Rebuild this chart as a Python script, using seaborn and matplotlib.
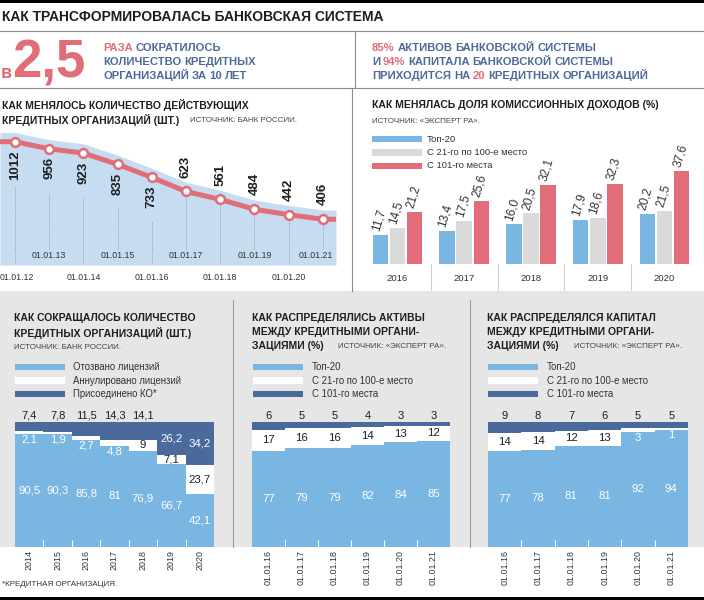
import numpy as np
import pandas as pd
import matplotlib
matplotlib.use("Agg")
import matplotlib.pyplot as plt
from matplotlib.patches import Rectangle
from matplotlib.lines import Line2D
import seaborn as sns

# ---------------- data ----------------
count_dates = ["01.01.12", "01.01.13", "01.01.14", "01.01.15", "01.01.16",
               "01.01.17", "01.01.18", "01.01.19", "01.01.20", "01.01.21"]
count_values = [1012, 956, 923, 835, 733, 623, 561, 484, 442, 406]

fee_years = ["2016", "2017", "2018", "2019", "2020"]
fee_groups = ["Топ-20", "С 21-го по 100-е место", "С 101-го места"]
fee_top20 = [11.7, 13.4, 16.0, 17.9, 20.2]
fee_21_100 = [14.5, 17.5, 20.5, 18.6, 21.5]
fee_101 = [21.2, 25.6, 32.1, 32.3, 37.6]

red_years = ["2014", "2015", "2016", "2017", "2018", "2019", "2020"]
red_groups = ["Отозвано лицензий", "Аннулировано лицензий", "Присоединено КО*"]
red_revoked = [90.5, 90.3, 85.8, 81, 76.9, 66.7, 42.1]
red_annulled = [2.1, 1.9, 2.7, 4.8, 9, 7.1, 23.7]
red_merged = [7.4, 7.8, 11.5, 14.3, 14.1, 26.2, 34.2]

share_dates = ["01.01.16", "01.01.17", "01.01.18", "01.01.19", "01.01.20", "01.01.21"]
assets_top20 = [77, 79, 79, 82, 84, 85]
assets_21_100 = [17, 16, 16, 14, 13, 12]
assets_101 = [6, 5, 5, 4, 3, 3]
capital_top20 = [77, 78, 81, 81, 92, 94]
capital_21_100 = [14, 14, 12, 13, 3, 1]
capital_101 = [9, 8, 7, 6, 5, 5]

# ---------------- style ----------------
RED = "#e06d77"
BLUE_TXT = "#4d6a9a"
LIGHT = "#79b6e1"
DARK = "#4a6a9c"
GRAYBAR = "#dadada"
FILL = "#c5dcf1"
BG = "#e6e6e6"
INK = "#1e1e1e"
TITLE_PT = 7.5
HEAD_PT = 8.1

plt.rcParams['font.family'] = ['Liberation Sans', 'DejaVu Sans']

W, H = 704, 600
fig = plt.figure(figsize=(W / 100, H / 100), dpi=100)


def px_axes(x, y, w, h):
    ax = fig.add_axes([x / W, 1 - (y + h) / H, w / W, h / H])
    ax.set_facecolor("none")
    return ax


def ftext(x, y, s, **kw):
    kw.setdefault("va", "center")
    return fig.text(x / W, 1 - y / H, s, **kw)


def fline(xs, ys, color, lw):
    fig.add_artist(Line2D([v / W for v in xs], [1 - v / H for v in ys],
                          color=color, lw=lw, transform=fig.transFigure))


def frect(x, y, w, h, color, z=-1):
    fig.add_artist(Rectangle((x / W, 1 - (y + h) / H), w / W, h / H, facecolor=color,
                             lw=0, transform=fig.transFigure, zorder=z))


def color_line(x, y, words, size):
    # y is the visual middle of the capitals; words share one baseline
    r = fig.canvas.get_renderer()
    em = size * 100 / 72
    sp = 0.25 * em
    base = y + 0.36 * em
    for chunk, col in words:
        for word in chunk.split():
            t = ftext(x, base, word, color=col, fontsize=size, fontweight="bold", va="baseline")
            x += t.get_window_extent(renderer=r).width + sp


# ---------------- frame ----------------
frect(0, 0, W, 3, "black", z=2)
frect(0, 597, W, 3, "black", z=2)
frect(0, 291, W, 256, BG)
fline([0, W], [30.5, 30.5], "#8c8c8c", 0.8)
fline([0, W], [88, 88], "#8c8c8c", 0.8)
fline([355, 355], [31, 88], "#8c8c8c", 0.8)
fline([352, 352], [88, 291], "#8c8c8c", 0.8)
fline([233, 233], [300, 547], "#9a9a9a", 0.8)
fline([470, 470], [300, 547], "#9a9a9a", 0.8)

ftext(2, 17, "КАК ТРАНСФОРМИРОВАЛАСЬ БАНКОВСКАЯ СИСТЕМА", fontsize=10,
      fontweight="bold", color=INK)

# header figures
ftext(1, 78, "в", fontsize=13, fontweight="bold", color=RED, va="baseline")
ftext(12, 78, "2,5", fontsize=38, fontweight="bold", color=RED, va="baseline")
color_line(103, 46.5, [("РАЗА", RED), ("СОКРАТИЛОСЬ", BLUE_TXT)], HEAD_PT)
color_line(103, 60.5, [("КОЛИЧЕСТВО КРЕДИТНЫХ", BLUE_TXT)], HEAD_PT)
color_line(103, 74.5, [("ОРГАНИЗАЦИЙ ЗА 10 ЛЕТ", BLUE_TXT)], HEAD_PT)
color_line(372, 46.5, [("85%", RED), ("АКТИВОВ БАНКОВСКОЙ СИСТЕМЫ", BLUE_TXT)], HEAD_PT)
color_line(372, 60.5, [("И", BLUE_TXT), ("94%", RED), ("КАПИТАЛА БАНКОВСКОЙ СИСТЕМЫ", BLUE_TXT)],
           HEAD_PT)
color_line(372, 74.5, [("ПРИХОДИТСЯ НА", BLUE_TXT), ("20", RED),
                       ("КРЕДИТНЫХ ОРГАНИЗАЦИЙ", BLUE_TXT)], HEAD_PT)

# ---------------- line chart: number of banks ----------------
ftext(2, 105, "КАК МЕНЯЛОСЬ КОЛИЧЕСТВО ДЕЙСТВУЮЩИХ", fontsize=TITLE_PT, fontweight="bold", color=INK)
ftext(2, 120, "КРЕДИТНЫХ ОРГАНИЗАЦИЙ (ШТ.)", fontsize=TITLE_PT, fontweight="bold", color=INK)
ftext(190, 120.5, "ИСТОЧНИК: БАНК РОССИИ.", fontsize=5.8, color="#444")

ax1 = px_axes(0, 128, 336, 137)
x_lo, x_hi = -0.4386, 9.386
y_lo, y_hi = 48.7, 1119
idx = np.arange(len(count_values))
xs = np.r_[x_lo, idx, x_hi]
vs = np.r_[count_values[0], count_values, count_values[-1]]
ax1.fill_between(xs, vs + 72, y_lo, color=FILL, lw=0, zorder=1)
sns.lineplot(x=xs, y=vs, ax=ax1, color=RED, lw=3.6, zorder=3)
sns.scatterplot(x=idx, y=count_values, ax=ax1, s=40, color="white",
                edgecolor=RED, linewidth=1.8, zorder=4)
ax1.set_xlim(x_lo, x_hi)
ax1.set_ylim(y_lo, y_hi)
ax1.axis("off")

inner_y = y_lo + (16 / 137) * (y_hi - y_lo)
unit = (y_hi - y_lo) / 137
last = len(count_values) - 1
for i, v in enumerate(count_values):
    below = i < 5
    ax1.annotate(str(v), (i, v), xytext=(0, -6 if below else 10), textcoords="offset points",
                 rotation=90, ha="center", va="top" if below else "bottom",
                 fontsize=9.5, fontweight="bold", color=INK, zorder=5)
    top = v - 44 * unit if below else v
    bot = inner_y if i % 2 else y_lo
    ax1.plot([i, i], [bot, top], color="#8a8a8a", lw=0.6, ls=(0, (1, 1.5)), zorder=2)
    if i == 0:
        xpos, ha = x_lo, "left"
    elif i == last:
        xpos, ha = x_hi - 0.08, "right"
    else:
        xpos, ha = i, "center"
    ypos = (265 - 255) / 137 if i % 2 else (265 - 278) / 137
    ax1.text(xpos, ypos, count_dates[i], transform=ax1.get_xaxis_transform(),
             ha=ha, va="center", fontsize=6.3, color="#333", clip_on=False)

# ---------------- grouped bars: fee income ----------------
ftext(372, 105, "КАК МЕНЯЛАСЬ ДОЛЯ КОМИССИОННЫХ ДОХОДОВ (%)", fontsize=TITLE_PT,
      fontweight="bold", color=INK)
ftext(372, 121.5, "ИСТОЧНИК: «ЭКСПЕРТ РА».", fontsize=5.8, color="#444")
for k, (col, lab) in enumerate(zip([LIGHT, GRAYBAR, RED], fee_groups)):
    yc = [139, 152.5, 166][k]
    frect(372, yc - 3.3, 50, 6.6, col, z=1)
    ftext(427, yc, lab, fontsize=6.8, color="#333")

fee_df = pd.DataFrame({
    "year": fee_years * 3,
    "group": [g for g in fee_groups for _ in fee_years],
    "value": fee_top20 + fee_21_100 + fee_101,
})
ax2 = px_axes(364, 160, 334, 104)
sns.barplot(data=fee_df, x="year", y="value", hue="group", hue_order=fee_groups,
            palette=[LIGHT, GRAYBAR, RED], width=0.77, gap=0.1, saturation=1,
            errorbar=None, legend=False, linewidth=0, ax=ax2)
ax2.set_xlim(-0.5, 4.5)
ax2.set_ylim(0, 104 / 2.47)
ax2.axis("off")
for cont in ax2.containers:
    for bar in cont:
        h = bar.get_height()
        ax2.annotate(f"{h:.1f}".replace(".", ","), (bar.get_x() + bar.get_width() / 2, h),
                     xytext=(-3.5, 3), textcoords="offset points", rotation=73,
                     rotation_mode="anchor", ha="left", va="center", fontsize=8.6,
                     color="#333", clip_on=False)
for k, yr in enumerate(fee_years):
    ax2.text(k, -15 / 104, yr, transform=ax2.get_xaxis_transform(), ha="center",
             va="center", fontsize=6.8, color="#333")
    if k < len(fee_years) - 1:
        ax2.plot([k + 0.5, k + 0.5], [0, -26 / 104], transform=ax2.get_xaxis_transform(),
                 color="#cfcfcf", lw=0.8, clip_on=False)


# ---------------- 100% stacked panels ----------------
def stacked(x0, width, cats, low, mid, top, legend_x, label_x, groups):
    for k, (col, lab) in enumerate(zip([LIGHT, "white", DARK], groups)):
        yc = [367, 380.5, 394][k]
        frect(legend_x, yc - 3.3, 50, 6.6, col, z=1)
        ftext(label_x, yc, lab, fontsize=6.9, color="#333")

    df = pd.DataFrame({"cat": cats, "low": low, "mid": mid, "top": top})
    df["lowmid"] = df["low"] + df["mid"]
    df["total"] = df["lowmid"] + df["top"]
    ax = px_axes(x0, 422, width, 125)
    for col_name, col in [("total", DARK), ("lowmid", "white"), ("low", LIGHT)]:
        sns.barplot(data=df, x="cat", y=col_name, color=col, width=1, saturation=1,
                    errorbar=None, linewidth=0, ax=ax)
    n = len(cats)
    ax.set_xlim(-0.5, n - 0.5)
    ax.set_ylim(0, 100)
    for s in ax.spines.values():
        s.set_visible(False)
    ax.set_axisbelow(False)
    ax.set_xlabel("")
    ax.set_ylabel("")
    ax.set_yticks([])
    ax.set_xticks(range(n))
    ax.set_xticklabels(cats, rotation=90)
    ax.set_xticks(np.arange(0.5, n - 1, 1), minor=True)
    ax.tick_params(axis="x", which="major", length=0, pad=2, labelsize=6.4, labelcolor="#333")
    ax.tick_params(axis="x", which="minor", direction="in", length=5, width=0.8, color="white")

    def fmt(v):
        return f"{v:g}".replace(".", ",")

    for i in range(n):
        lo, md, tp = low[i], mid[i], top[i]
        if tp < 20:
            ax.text(i, 100 + 6 / 1.25, fmt(tp), ha="center", va="center", fontsize=8,
                    color=INK, clip_on=False)
        else:
            ax.text(i, 100 - tp / 2, fmt(tp), ha="center", va="center", fontsize=8.2,
                    color="white")
        if md < 5:
            ax.text(i, lo - 4.5, fmt(md), ha="center", va="center", fontsize=8.2, color="white")
        else:
            ax.text(i, lo + md / 2, fmt(md), ha="center", va="center", fontsize=8.2, color=INK)
        ax.text(i, min(46, lo / 2), fmt(lo), ha="center", va="center", fontsize=8.2,
                color="white")
    return ax


ftext(14, 318, "КАК СОКРАЩАЛОСЬ КОЛИЧЕСТВО", fontsize=TITLE_PT, fontweight="bold", color=INK)
ftext(14, 333, "КРЕДИТНЫХ ОРГАНИЗАЦИЙ (ШТ.)", fontsize=TITLE_PT, fontweight="bold", color=INK)
ftext(14, 347.5, "ИСТОЧНИК: БАНК РОССИИ.", fontsize=5.8, color="#444")
stacked(15, 199, red_years, red_revoked, red_annulled, red_merged, 15, 73, red_groups)

ftext(252, 318, "КАК РАСПРЕДЕЛЯЛИСЬ АКТИВЫ", fontsize=TITLE_PT, fontweight="bold", color=INK)
ftext(252, 332, "МЕЖДУ КРЕДИТНЫМИ ОРГАНИ-", fontsize=TITLE_PT, fontweight="bold", color=INK)
ftext(252, 346, "ЗАЦИЯМИ (%)", fontsize=TITLE_PT, fontweight="bold", color=INK)
ftext(338, 347, "ИСТОЧНИК: «ЭКСПЕРТ РА».", fontsize=5.8, color="#444")
stacked(252, 198, share_dates, assets_top20, assets_21_100, assets_101, 253, 312, fee_groups)

ftext(487, 318, "КАК РАСПРЕДЕЛЯЛСЯ КАПИТАЛ", fontsize=TITLE_PT, fontweight="bold", color=INK)
ftext(487, 332, "МЕЖДУ КРЕДИТНЫМИ ОРГАНИ-", fontsize=TITLE_PT, fontweight="bold", color=INK)
ftext(487, 346, "ЗАЦИЯМИ (%)", fontsize=TITLE_PT, fontweight="bold", color=INK)
ftext(574, 347, "ИСТОЧНИК: «ЭКСПЕРТ РА».", fontsize=5.8, color="#444")
stacked(488, 200, share_dates, capital_top20, capital_21_100, capital_101, 488, 547, fee_groups)

ftext(2, 585, "*КРЕДИТНАЯ ОРГАНИЗАЦИЯ.", fontsize=5.8, color="#333")

fig.savefig("out.png", dpi=100)
